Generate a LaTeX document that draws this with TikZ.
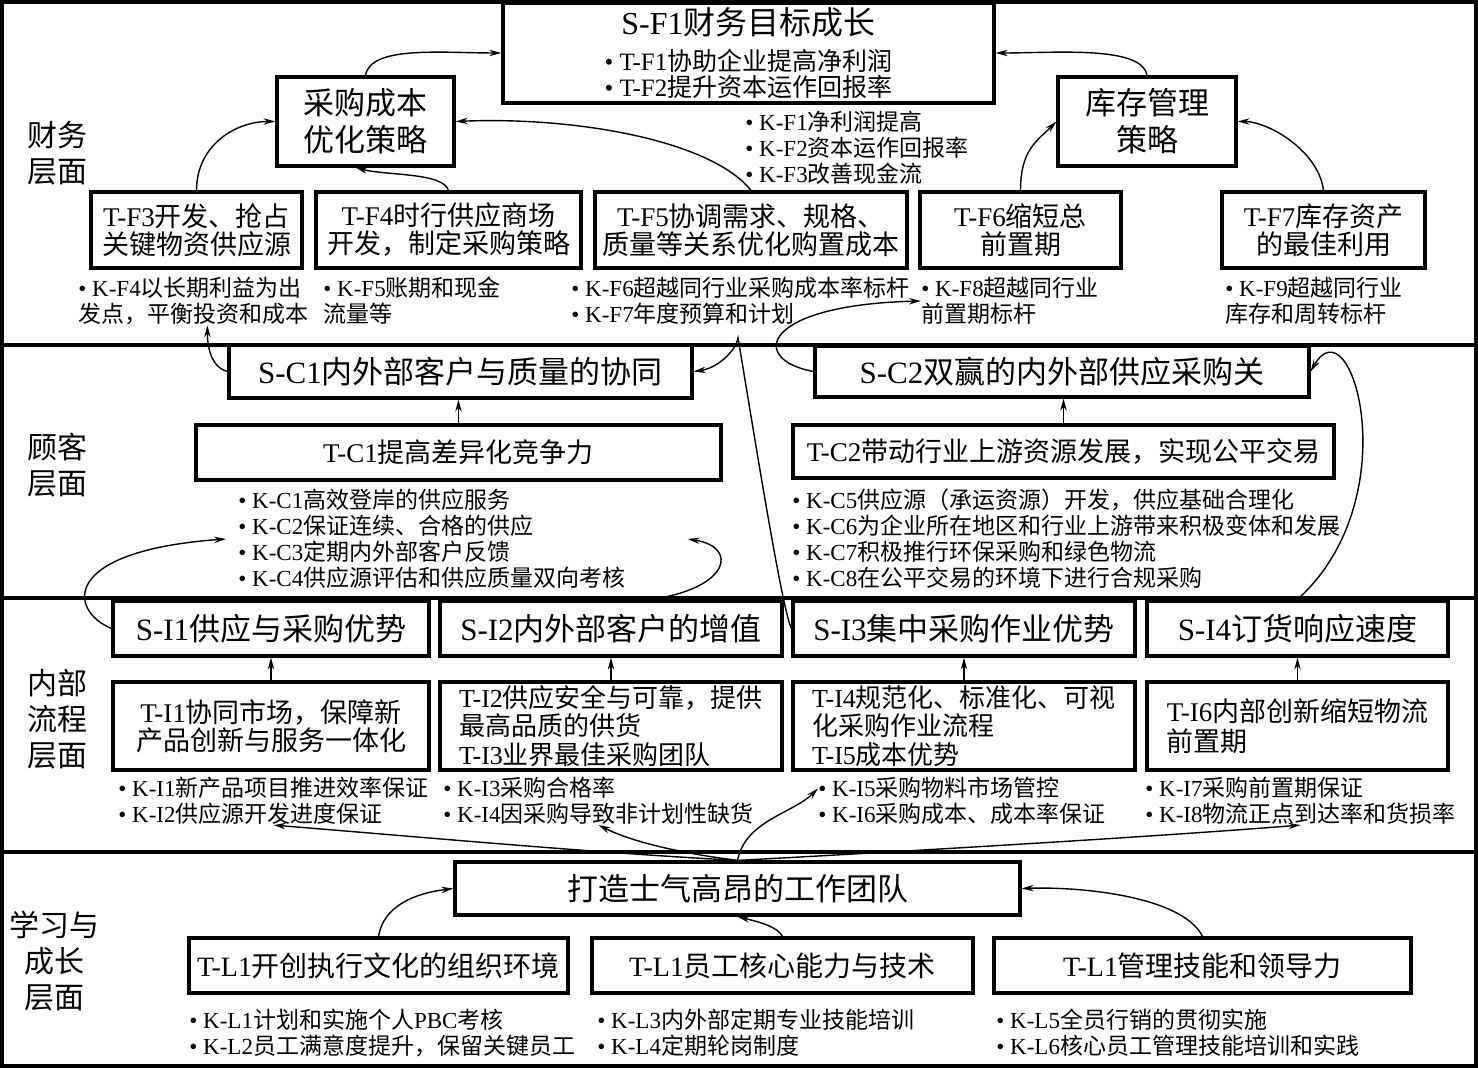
\documentclass[tikz,border=0pt]{standalone}
\usepackage{fontspec}
\setmainfont{Liberation Serif}
\newfontfamily\cjkfont{Noto Sans CJK SC}
\newfontfamily\latfont{Liberation Serif}
\XeTeXinterchartokenstate=1
\chardef\cjkclass=10
\newcount\cjkidx
\newcommand\setcjkrange[2]{\cjkidx=#1\relax\loop\XeTeXcharclass\cjkidx=\cjkclass\relax\ifnum\cjkidx<#2\relax\advance\cjkidx by 1\relax\repeat}
\setcjkrange{"3000}{"303F}
\setcjkrange{"4E00}{"9FFF}
\setcjkrange{"FF00}{"FFEF}
\XeTeXinterchartoks 0 \cjkclass = {\cjkfont}
\XeTeXinterchartoks 4095 \cjkclass = {\cjkfont}
\XeTeXinterchartoks \cjkclass 0 = {\latfont}
\XeTeXinterchartoks 4095 0 = {\latfont}
\usepackage{tikz}
\usetikzlibrary{arrows.meta}
\newcommand{\titlefont}{\fontsize{16}{18}\selectfont}
\newcommand{\goalfont}{\fontsize{12.5}{12.7}\selectfont\lineskiplimit=-50pt\relax}
\newcommand{\boxS}{\fontsize{15.5}{18.5}\selectfont\lineskiplimit=-50pt\relax}
\newcommand{\boxT}{\fontsize{13.5}{14}\selectfont\lineskiplimit=-50pt\relax}
\newcommand{\boxTs}{\fontsize{13}{14.3}\selectfont\lineskiplimit=-50pt\relax}
\newcommand{\boxL}{\fontsize{14}{16}\selectfont\lineskiplimit=-50pt\relax}
\newcommand{\klistfont}{\fontsize{11.5}{13}\selectfont\lineskiplimit=-50pt\relax}
\newcommand{\layerfont}{\fontsize{15}{18}\selectfont\lineskiplimit=-50pt\relax}

\begin{document}
\begin{tikzpicture}[x=0.5pt, y=-0.5pt,
  box/.style={draw, line width=1.6pt, inner sep=0pt, align=center, fill=white, font=\boxT},
  sbox/.style={box, font=\boxS},
  wh/.style 2 args={minimum width=#1*0.5pt, minimum height=#2*0.5pt},
  klist/.style={anchor=west, align=left, inner sep=0pt, font=\klistfont},
  layer/.style={align=center, inner sep=0pt, font=\layerfont},
  arr/.style={-{Stealth[length=6pt, width=3.2pt]}, line width=0.7pt},
  band/.style={line width=2.2pt}]
  \useasboundingbox (0,0) rectangle (1478,1068);
  \draw[band] (2,2) rectangle (1476,1066);
  \draw[band] (2,345) -- (1476,345);
  \draw[band] (2,598) -- (1476,598);
  \draw[band] (2,852) -- (1476,852);

  \node[layer] (lf) at (57,153) {财务\\层面};
  \node[layer] (lc) at (57,465) {顾客\\层面};
  \node[layer] (li) at (57,719) {内部\\流程\\层面};
  \node[layer] (ll) at (55,961) {学习与\\成长\\层面};

  \node[box, wh={491}{100}, font=\goalfont] (sf1) at (748.5,53) {{\titlefont S-F1财务目标成长}\\[5.3pt]• T-F1协助企业提高净利润\\• T-F2提升资本运作回报率};
  \node[sbox, wh={177}{89}] (cost) at (365.5,121.5) {采购成本\\优化策略};
  \node[sbox, wh={178}{89}] (stock) at (1147,121.5) {库存管理\\策略};
  \node[klist] (kf13) at (745,148) {• K-F1净利润提高\\• K-F2资本运作回报率\\• K-F3改善现金流};
  \node[box, wh={211}{76}] (tf3) at (196.5,230) {T-F3开发、抢占\\关键物资供应源};
  \node[box, wh={265}{76}] (tf4) at (448.5,230) {T-F4时行供应商场\\开发，制定采购策略};
  \node[box, wh={312}{76}] (tf5) at (751,230) {T-F5协调需求、规格、\\质量等关系优化购置成本};
  \node[box, wh={201}{76}] (tf6) at (1020.5,230) {T-F6缩短总\\前置期};
  \node[box, wh={203}{76}] (tf7) at (1323.5,230) {T-F7库存资产\\的最佳利用};
  \node[klist] (kf4) at (78,301) {• K-F4以长期利益为出\\发点，平衡投资和成本};
  \node[klist] (kf5) at (323,301) {• K-F5账期和现金\\流量等};
  \node[klist] (kf67) at (571,301) {• K-F6超越同行业采购成本率标杆\\• K-F7年度预算和计划};
  \node[klist] (kf8) at (921,301) {• K-F8超越同行业\\前置期标杆};
  \node[klist] (kf9) at (1225,301) {• K-F9超越同行业\\库存和周转标杆};

  \node[sbox, wh={463}{53}] (sc1) at (460.5,371.5) {S-C1内外部客户与质量的协同};
  \node[sbox, wh={494}{51}] (sc2) at (1062,371.5) {S-C2双赢的内外部供应采购关};
  \node[box, wh={525}{55}] (tc1) at (458.5,452.5) {T-C1提高差异化竞争力};
  \node[box, wh={541}{53}] (tc2) at (1063.5,451.5) {T-C2带动行业上游资源发展，实现公平交易};
  \node[klist] (kc14) at (238,539) {• K-C1高效登岸的供应服务\\• K-C2保证连续、合格的供应\\• K-C3定期内外部客户反馈\\• K-C4供应源评估和供应质量双向考核};
  \node[klist] (kc58) at (792,539) {• K-C5供应源（承运资源）开发，供应基础合理化\\• K-C6为企业所在地区和行业上游带来积极变体和发展\\• K-C7积极推行环保采购和绿色物流\\• K-C8在公平交易的环境下进行合规采购};

  \node[sbox, wh={316}{55}] (si1) at (271,628.5) {S-I1供应与采购优势};
  \node[sbox, wh={342}{55}] (si2) at (611,628.5) {S-I2内外部客户的增值};
  \node[sbox, wh={342}{55}] (si3) at (964,628.5) {S-I3集中采购作业优势};
  \node[sbox, wh={301}{55}] (si4) at (1297.5,628.5) {S-I4订货响应速度};
  \node[box, wh={316}{88}] (ti1) at (271,726) {T-I1协同市场，保障新\\产品创新与服务一体化};
  \node[box, wh={342}{88}, font=\boxTs, align=left] (ti2) at (611,726) {T-I2供应安全与可靠，提供\\最高品质的供货\\T-I3业界最佳采购团队};
  \node[box, wh={342}{88}, font=\boxTs, align=left] (ti3) at (964,726) {T-I4规范化、标准化、可视\\化采购作业流程\\T-I5成本优势};
  \node[box, wh={301}{88}, align=left] (ti4) at (1297.5,726) {T-I6内部创新缩短物流\\[1pt]前置期};
  \node[klist] (ki12) at (118,801) {• K-I1新产品项目推进效率保证\\• K-I2供应源开发进度保证};
  \node[klist] (ki34) at (443,801) {• K-I3采购合格率\\• K-I4因采购导致非计划性缺货};
  \node[klist] (ki56) at (818,801) {• K-I5采购物料市场管控\\• K-I6采购成本、成本率保证};
  \node[klist] (ki78) at (1145,801) {• K-I7采购前置期保证\\• K-I8物流正点到达率和货损率};

  \node[sbox, wh={565}{53}] (team) at (737.5,888.5) {打造士气高昂的工作团队};
  \node[box, wh={379}{55}, font=\boxL] (tl1) at (378.5,965.5) {T-L1开创执行文化的组织环境};
  \node[box, wh={381}{55}, font=\boxL] (tl2) at (782.5,965.5) {T-L1员工核心能力与技术};
  \node[box, wh={417}{55}, font=\boxL] (tl3) at (1202.5,965.5) {T-L1管理技能和领导力};
  \node[klist] (kl12) at (189,1033) {• K-L1计划和实施个人PBC考核\\• K-L2员工满意度提升，保留关键员工};
  \node[klist] (kl34) at (597,1033) {• K-L3内外部定期专业技能培训\\• K-L4定期轮岗制度};
  \node[klist] (kl56) at (996,1033) {• K-L5全员行销的贯彻实施\\• K-L6核心员工管理技能培训和实践};

  \draw[arr] (cost.north) .. controls +(5,-30) and +(-60,0) .. (sf1.west);
  \draw[arr] (stock.north) .. controls +(-5,-30) and +(60,0) .. (sf1.east);
  \draw[arr] (tf3.north) .. controls +(0,-45) and +(-40,0) .. (cost.west);
  \draw[arr] (tf4.north) .. controls +(-5,-18) and +(30,8) .. ([xshift=-5pt]cost.south);
  \draw[arr] (tf5.north) .. controls +(-40,-50) and +(120,-5) .. (cost.east);
  \draw[arr] (tf6.north) .. controls +(0,-40) and +(-20,20) .. (stock.west);
  \draw[arr] (tf7.north) .. controls +(-5,-40) and +(30,0) .. (stock.east);

  \coordinate (hook) at (738,338);
  \draw[arr] (sc1.west) .. controls +(-18,-5) and +(0,18) .. ([xshift=7pt]kf4.south);
  \draw[arr] (si3.west) .. controls +(-10,-20) and +(12,70) .. (hook) .. controls +(-3,15) and +(22,-3) .. (sc1.east);
  \draw[arr] (sc2.west) .. controls +(-65,-12) and +(-160,4) .. (kf8.west);
  \draw[arr] (si4.north) .. controls +(112,-101) and +(41,-72) .. (sc2.east);
  \draw[arr] (tc1.north) -- (tc1.north |- sc1.south);
  \draw[arr] (tc2.north) -- (tc2.north |- sc2.south);
  \draw[arr] (si1.west) .. controls +(-43,-18) and +(-166,12) .. ([xshift=-6pt]kc14.west);
  \draw[arr] ([xshift=20pt]si2.north) .. controls +(79,-11) and +(51,8) .. ([xshift=31pt]kc14.east);

  \foreach \a/\b in {ti1/si1, ti2/si2, ti3/si3, ti4/si4}
    \draw[arr] (\a.north) -- (\b.south);
  \draw[arr] (team.north) .. controls +(-150,-8) and +(150,12) .. (ki12.south);
  \draw[arr] (team.north) .. controls +(-40,-5) and +(40,20) .. (ki34.south);
  \draw[arr] (team.north) .. controls +(8,-40) and +(-25,25) .. (ki56.175);
  \draw[arr] (team.north) .. controls +(150,-8) and +(-150,12) .. (ki78.south);

  \draw[arr] (tl1.north) .. controls +(5,-30) and +(-40,5) .. (team.west);
  \draw[arr] (tl2.north) .. controls +(-5,-10) and +(20,5) .. (team.south);
  \draw[arr] (tl3.north) .. controls +(-20,-40) and +(60,-2) .. (team.east);
\end{tikzpicture}
\end{document}
